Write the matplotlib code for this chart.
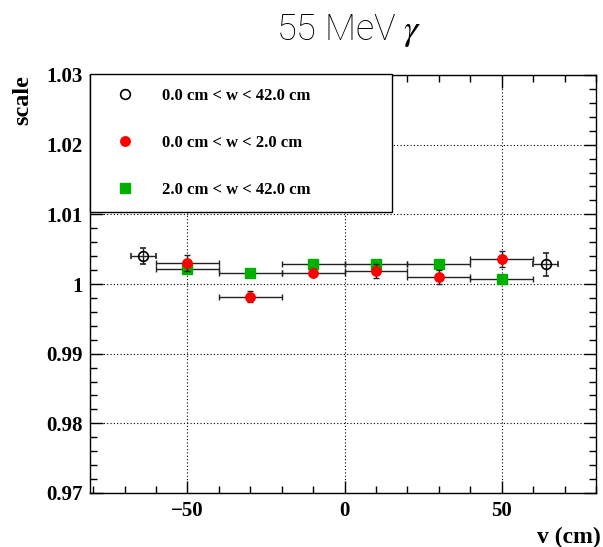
import matplotlib
matplotlib.use("Agg")
import matplotlib.pyplot as plt
from matplotlib.lines import Line2D
from matplotlib.ticker import MultipleLocator

# ---- data ----
x_all = [-64, 64]
y_all = [1.0040, 1.0028]
xerr_all = [4, 4]
yerr_all = [0.0012, 0.0016]

x_bins = [-50, -30, -10, 10, 30, 50]
xerr_bins = [10, 10, 10, 10, 10, 10]
y_in = [1.0030, 0.9982, 1.0016, 1.0018, 1.0010, 1.0036]
yerr_in = [0.0011, 0.0008, 0.0005, 0.0010, 0.0010, 0.0011]
y_out = [1.0021, 1.0016, 1.0028, 1.0028, 1.0028, 1.0007]
yerr_out = [0.0003, 0.0003, 0.0003, 0.0003, 0.0003, 0.0003]

labels = ["0.0 cm < w < 42.0 cm", "0.0 cm < w < 2.0 cm", "2.0 cm < w < 42.0 cm"]
x_ticks = [-50, 0, 50]
x_ticklabels = ["\u221250", "0", "50"]
y_ticks = [0.97, 0.98, 0.99, 1.00, 1.01, 1.02, 1.03]
y_ticklabels = ["0.97", "0.98", "0.99", "1", "1.01", "1.02", "1.03"]
title_text = r"55 MeV $\gamma$"
ylabel_text = "scale"
xlabel_text = "v (cm)"

plt.rcParams['mathtext.fontset'] = 'stix'
serif = ['Liberation Serif', 'DejaVu Serif']

fig = plt.figure(figsize=(6.03, 5.47), dpi=100)
ax = fig.add_axes([90/603, 1-493/547, 506/603, 418/547])

ax.set_xlim(-81, 80)
ax.set_ylim(0.97, 1.03)

ebkw = dict(ls='none', ecolor='#222222', elinewidth=1.0, capsize=2, capthick=1.0)
ax.errorbar(x_bins, y_out, xerr=xerr_bins, yerr=yerr_out, marker='s', ms=7,
            mfc='#00b000', mec='#00b000', zorder=3, **ebkw)
ax.errorbar(x_bins, y_in, xerr=xerr_bins, yerr=yerr_in, marker='o', ms=6.8,
            mfc='#ff0000', mec='#ff0000', zorder=4, **ebkw)
ax.errorbar(x_all, y_all, xerr=xerr_all, yerr=yerr_all, marker='o', ms=7,
            mfc='none', mec='black', mew=1.2, zorder=5, **ebkw)

# ticks
ax.xaxis.set_minor_locator(MultipleLocator(10))
ax.yaxis.set_minor_locator(MultipleLocator(0.002))
ax.set_xticks(x_ticks)
ax.set_xticklabels(x_ticklabels, fontfamily=serif, fontweight='bold', fontsize=15)
ax.set_yticks(y_ticks)
ax.set_yticklabels(y_ticklabels, fontfamily=serif, fontweight='bold', fontsize=15)
ax.tick_params(which='both', direction='in', top=True, right=True, width=1)
ax.tick_params(which='major', length=9)
ax.tick_params(axis='x', which='major', pad=6)
ax.tick_params(axis='y', which='major', pad=5)
ax.tick_params(which='minor', length=5)

ax.grid(True, which='major', color='black', linestyle=(0, (1, 2)), linewidth=0.8)
ax.set_axisbelow(True)
for s in ax.spines.values():
    s.set_linewidth(1.0)

# legend
handles = [
    Line2D([], [], ls='none', marker='o', ms=7, mfc='none', mec='black', mew=1.2),
    Line2D([], [], ls='none', marker='o', ms=6.8, mfc='#ff0000', mec='#ff0000'),
    Line2D([], [], ls='none', marker='s', ms=7, mfc='#00b000', mec='#00b000'),
]
leg = ax.legend(handles, labels, loc='upper left', bbox_to_anchor=(0, 1.002, 0.597, 0.0),
                mode='expand', borderaxespad=0, frameon=True, fancybox=False,
                edgecolor='black', framealpha=1, borderpad=0.85, labelspacing=1.85,
                handlelength=2.5, handletextpad=0.95,
                prop=dict(family=serif, weight='bold', size=12))
leg.get_frame().set_linewidth(1.0)
leg.set_zorder(10)

fig.text(349/603, 1-40/547, title_text, ha='center', va='baseline',
         fontsize=26, family=['Roboto', 'DejaVu Sans'], fontweight='light')
fig.text(23/603, 1-75/547, ylabel_text, rotation=90, ha='center', va='top',
         family=serif, fontweight='bold', fontsize=17.5)
fig.text(601/603, 1-543/547, xlabel_text, ha='right', va='baseline',
         family=serif, fontweight='bold', fontsize=17)

fig.savefig("out.png", dpi=100)
